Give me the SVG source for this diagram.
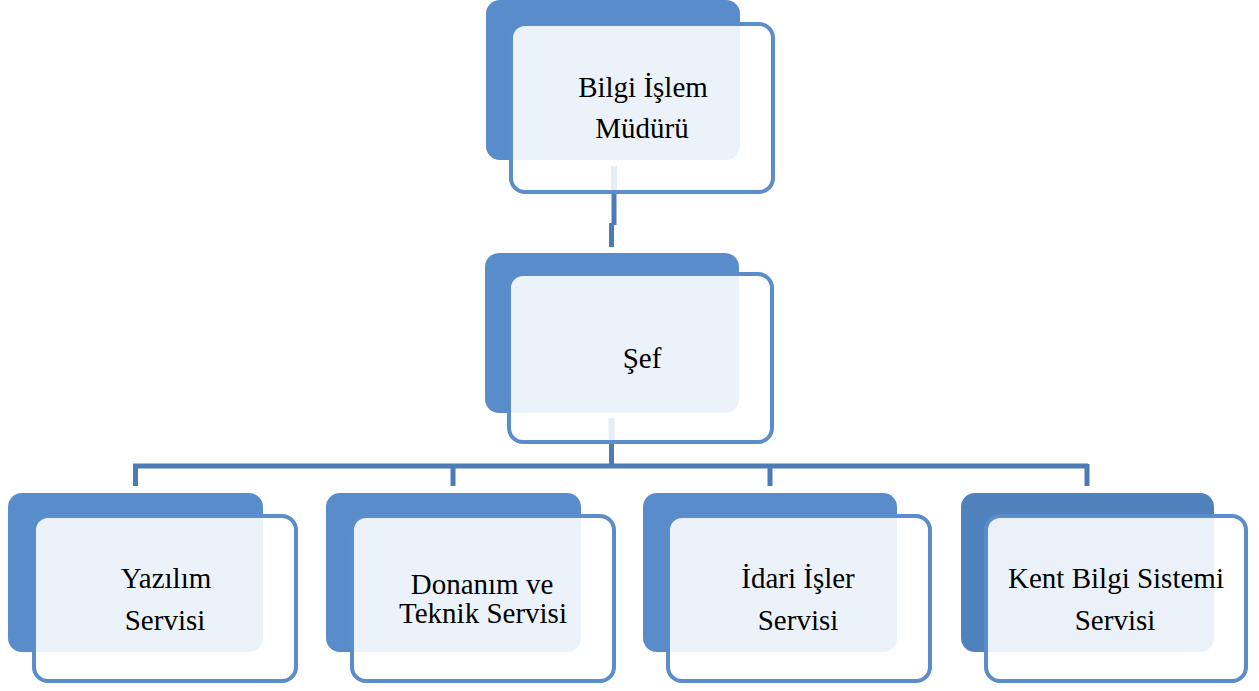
<svg xmlns="http://www.w3.org/2000/svg" width="1259" height="691" viewBox="0 0 1259 691">
<style>
.back{fill:#588CCB}
.back2{fill:#4F81BD}
.front{fill:#FFFFFF;fill-opacity:0.89;stroke:#5A8DCA;stroke-width:4}
.conn{stroke:#4C7CB6;stroke-width:5;fill:none}
.connl{stroke:#E6EDF6;stroke-width:6;fill:none}
text{font-family:"Liberation Serif","Times New Roman",serif;font-size:29px;fill:#000;text-anchor:middle}
</style>
<rect width="1259" height="691" fill="#FFFFFF"/>
<g id="connectors">
<path class="conn" d="M614 193 V225 M611.5 223 V247"/>
<path class="conn" d="M611.5 444 V466 M133 466 H1088 M135.5 464 V486 M453 464 V486 M770 464 V486 M1087 464 V486"/>
</g>
<g id="n-mudur">
<rect class="back" x="486" y="0" width="254" height="160" rx="14"/>
<rect class="front" x="511" y="24" width="262" height="168" rx="14"/>
<path class="connl" d="M614 166 V190"/>
<text x="643" y="97">Bilgi İşlem</text>
<text x="642" y="138">Müdürü</text>
</g>
<g id="n-sef">
<rect class="back" x="485" y="253" width="254" height="160" rx="14"/>
<rect class="front" x="509" y="274" width="263" height="168" rx="14"/>
<path class="connl" d="M611.5 418 V440"/>
<text x="642" y="368">Şef</text>
</g>
<g id="n-yazilim">
<rect class="back" x="8" y="493" width="255" height="159" rx="14"/>
<rect class="front" x="34" y="516" width="262" height="165" rx="14"/>
<text x="166" y="588">Yazılım</text>
<text x="165" y="630">Servisi</text>
</g>
<g id="n-donanim">
<rect class="back" x="326" y="493" width="255" height="159" rx="14"/>
<rect class="front" x="352" y="516" width="262" height="165" rx="14"/>
<text x="482" y="594">Donanım ve</text>
<text x="483" y="623">Teknik Servisi</text>
</g>
<g id="n-idari">
<rect class="back" x="643" y="493" width="254" height="159" rx="14"/>
<rect class="front" x="668" y="516" width="262" height="165" rx="14"/>
<text x="798" y="588">İdari İşler</text>
<text x="798" y="630">Servisi</text>
</g>
<g id="n-kent">
<rect class="back2" x="961" y="493" width="253" height="159" rx="14"/>
<rect class="front" x="986" y="516" width="260" height="165" rx="14"/>
<text x="1116" y="588">Kent Bilgi Sistemi</text>
<text x="1115" y="630">Servisi</text>
</g>
</svg>
